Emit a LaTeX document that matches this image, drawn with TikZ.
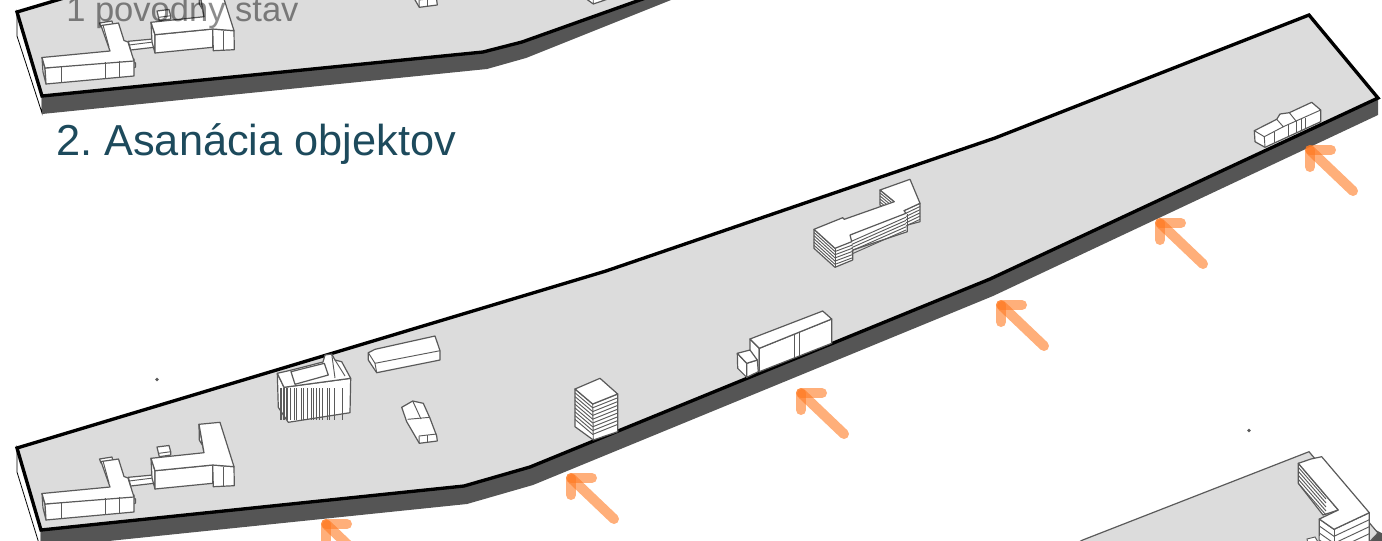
\documentclass[tikz,border=0pt]{standalone}
\usepackage{fontspec}
\setmainfont{Liberation Sans}
\frenchspacing
\definecolor{platefill}{HTML}{DCDCDC}
\definecolor{platedark}{HTML}{555555}
\definecolor{linegray}{HTML}{5A5A5A}
\definecolor{titleblue}{HTML}{1D4A5C}
\definecolor{arroworange}{HTML}{FF7A22}
\tikzset{
  block/.style={draw=linegray, fill=white, line width=0.9pt, line join=round},
  thin block/.style={draw=linegray, line width=0.7pt},
  plate/.style={fill=platefill, draw=black, line width=2.5pt, line join=miter},
  entrybar/.style={arroworange, opacity=0.6, line width=7.5pt, line cap=round},
  label/.style={inner sep=0pt, anchor=base west}
}
% blocks that stand on both plates
\newcommand{\sharedblocks}{%
    % Left wing
    \draw[block] (99.5,459) -- (112,457) -- (113,461) -- (101,463) -- cycle;
    \draw[block] (134,498) -- (135.5,499) -- (135.5,503) -- (133,504) -- cycle;
    \draw[block] (42,493.5) -- (45,504) -- (46,520) -- (43,508) -- cycle;
    \draw[block] (45,504) -- (134,495) -- (134,512) -- (46,520) -- cycle;
    \draw[block] (42,493.5) -- (110,487) -- (101,461.5) -- (118.5,459) -- (124,476.5) -- (128,478) -- (134,497) -- (45,504) -- cycle;
    \draw[thin block] (61,502) -- (61,518.5);
    \draw[thin block] (105.6,498) -- (105.6,514.5);
    \draw[thin block] (119,496.5) -- (119,513.5);
    \draw[thin block] (103,461) -- (109,483);
    % Passage between the wings
    \draw[block] (128.3,477.3) -- (153,475) -- (154,483.3) -- (130.7,486) -- cycle;
    \draw[thin block] (129,481) -- (153,478);
    % Right wing
    \draw[block] (157,447) -- (169,445.5) -- (170.7,451.7) -- (170.7,455) -- (159.3,456.7) -- cycle;
    \draw[thin block] (159,453.3) -- (170.7,451.7);
    \draw[block] (199,424.3) -- (199.3,440) -- (207,453) -- (204,453) -- cycle;
    \draw[block] (151,458.3) -- (155,470.7) -- (155,489) -- (152,478) -- cycle;
    \draw[block] (155,470.7) -- (212.7,465) -- (212.7,483.3) -- (155,489) -- cycle;
    \draw[block] (212.7,465) -- (234,466.7) -- (234.3,485.7) -- (213.3,486.7) -- cycle;
    \draw[block] (151,458.3) -- (204,452.7) -- (199,424.3) -- (220,422.3) -- (234,466.7) -- (212.7,465) -- (155,470.7) -- cycle;
    \draw[thin block] (223.3,467) -- (223.3,486);
    % Small house
    \draw[block] (401.7,407.3) -- (412.7,401) -- (423.3,403.3) -- (430,418.3) -- (436.7,436) -- (437.3,441) -- (419.3,443.3) -- (406.7,421.7) -- cycle;
    \draw[thin block] (407.7,419.3) -- (430,417.3);
    \draw[thin block] (412.7,401) -- (421,419);
    \draw[thin block] (419,436) -- (436.7,434);
    \draw[thin block] (419,436) -- (419.3,443.3);
    \draw[thin block] (427,435) -- (427,442.3);
    % Small stack
    \draw[block] (575,389) -- (575,426.7) -- (593.3,440) -- (617.7,431.7) -- (617.7,394) -- (592.7,404) -- cycle;
    \foreach \d in {3.8,7.6,...,34.2}
        \draw[thin block] (575,389+\d) -- (592.7,404+\d) -- (617.7,394+\d);
    \draw[thin block] (592.7,404) -- (593.3,440);
    \draw[block] (575,389) -- (600,378.3) -- (617.7,394) -- (592.7,404) -- cycle;
}
\begin{document}
\begin{tikzpicture}[x=0.75pt, y=-0.75pt]
    \useasboundingbox (0,0) rectangle (1382,540);
    \clip (0,0) rectangle (1382,540);

    % Upper plate
    \draw[fill=white, draw=black, line width=0.6pt] (17,12) -- (17,36) -- (42,113) -- (42,96) -- cycle;
    \fill[platedark] (42,96) -- (42,114) -- (487,69) -- (526,58) -- (696,-10) -- (668,-10) -- (522,42) -- (483,52) -- cycle;
    \draw[plate] (17,12) -- (64,-2) -- (64,-10) -- (668,-10) -- (522,42) -- (483,52) -- (42,96) -- cycle;
    \begin{scope}[shift={(0,-436)}]
        \sharedblocks
    \end{scope}
    \node[label, text=black, opacity=0.45] (oldstate) at (66,21) {\fontsize{25.9pt}{30pt}\selectfont 1 povodny stav};

    % Title
    \node[label, text=titleblue] (title) at (56,155) {\fontsize{32.5pt}{38pt}\selectfont 2. Asanácia objektov};

    % Main plate
    \draw[fill=white, draw=black, line width=0.6pt] (17,448) -- (17,472) -- (41,550) -- (41,530) -- cycle;
    \fill[platedark] (41,530) -- (41,548) -- (467,504) -- (533,485) -- (993,296) -- (1378,115) -- (1378,98) -- (990,279) -- (530,467) -- (464,486) -- cycle;
    \draw[plate] (17,448) -- (606,271) -- (995,138) -- (1309,15) -- (1378,98) -- (990,279) -- (530,467) -- (464,486) -- (41,530) -- cycle;
    \sharedblocks

    % Columned block
    \draw[block] (277.3,373.3) -- (278.3,407.3) -- (288.3,422.3) -- (350,412.7) -- (350.7,378.3) -- (284,387.3) -- cycle;
    \foreach \x in {280,281.5,283,284.5,286,287.5,290,294,296,301,303,307,311,313,316,319,322,327,329,334,342}
        \draw[thin block] (\x,388) -- (\x,420);
    \draw[block] (277.3,373.3) -- (291.7,370) -- (323,362) -- (325,355) -- (331.7,354) -- (335,360) -- (341.7,361.7) -- (350.7,378.3) -- (284,387.3) -- cycle;
    \draw[block] (291,371.7) -- (324.3,363.3) -- (328.3,375) -- (295,384.3) -- cycle;
    \draw[thin block] (335,360) -- (345,376);
    \draw[thin block] (331.7,354) -- (335,378);

    % Long low block
    \draw[block] (368.3,352.7) -- (375,349.3) -- (435,336) -- (440,350.7) -- (440,360) -- (376.7,372.7) -- (368.3,360) -- cycle;
    \draw[thin block] (368.3,352.7) -- (375,363.3) -- (440,350.7);
    \draw[thin block] (375,363.3) -- (376.7,372.7);

    % Shop block with annex
    \draw[block] (750,339) -- (759.3,348.3) -- (759.3,371.7) -- (750,362) -- cycle;
    \draw[block] (759.3,348.3) -- (831.7,319) -- (831.7,343.3) -- (759.3,371.7) -- cycle;
    \draw[block] (750,339) -- (822.7,311) -- (831.7,319) -- (759.3,348.3) -- cycle;
    \draw[thin block] (794,334) -- (794,358);
    \draw[thin block] (799.3,332) -- (799.3,356);
    \draw[block] (737.3,353.3) -- (746.7,363.3) -- (746.7,377.3) -- (737.7,368.3) -- cycle;
    \draw[block] (746.7,363.3) -- (757.3,360) -- (758.3,371.7) -- (746.7,377.3) -- cycle;
    \draw[block] (737.3,353.3) -- (750,350) -- (757.3,360) -- (746.7,363.3) -- cycle;

    % Bent block
    \draw[block] (880,190) -- (880,205) -- (894.3,216) -- (894.3,201.7) -- cycle;
    \foreach \d in {3,6,...,12}
        \draw[thin block] (880,190+\d) -- (894.3,201.7+\d);
    \draw[block] (814,229.3) -- (814,248.3) -- (835,267.3) -- (852.7,260) -- (852.7,250) -- (907.3,231.7) -- (907.3,225) -- (920,221.7) -- (920,203.3) -- (850,235) -- (835,248.3) -- cycle;
    \foreach \d in {3.2,6.4,...,16}{
        \draw[thin block] (814,229.3+\d) -- (835,248.3+\d) -- (852.7,241.7+\d);
        \draw[thin block] (851.7,238+\d) -- (906,214+\d);
        \draw[thin block] (906,210+\d) -- (920,203.3+\d);
    }
    \draw[thin block] (835,248.3) -- (835,267.3);
    \draw[thin block] (907.3,214) -- (907.3,231.7);
    \draw[block] (814,229.3) -- (842.7,217.7) -- (844.3,219.3) -- (894.3,201.7) -- (880,190) -- (910,179.3) -- (920,203.3) -- (904,210.7) -- (906,213.3) -- (850,235) -- (851.7,241.7) -- (835,248.3) -- cycle;

    % Far block
    \draw[block] (1254.3,130.7) -- (1276.7,119.3) -- (1280,114) -- (1289.3,112.7) -- (1311.7,102.3) -- (1320.7,110) -- (1320.7,121.7) -- (1265,147.3) -- (1255,141.7) -- cycle;
    \draw[thin block] (1254.3,130.7) -- (1264.3,136.7) -- (1283.3,126.7) -- (1276.7,119.3);
    \draw[thin block] (1283.3,126.7) -- (1320.7,110);
    \draw[thin block] (1264.3,136.7) -- (1265,147.3);
    \draw[thin block] (1274,132) -- (1274,142.5);
    \draw[thin block] (1288,125) -- (1288,136);
    \draw[thin block] (1296,121) -- (1296,132.5);
    \draw[thin block] (1301,119) -- (1301,130);
    \draw[thin block] (1305,117.5) -- (1305,128.5);
    \draw[thin block] (1289.3,112.7) -- (1296,121);

    % Stray points
    \fill[linegray] (157,379.5) circle (1.8);
    \fill[linegray] (1249,430.5) circle (1.8);

    % Next plate
    \fill[platedark] (1370,527) -- (1395,540) -- (1395,560) -- (1340,560) -- cycle;
    \draw[fill=platefill, draw=linegray, line width=0.9pt] (1309,451.7) -- (1082.7,540) -- (1060,552) -- (1360,552) -- (1378,533) -- cycle;
    \draw[thin block, fill=white] (1307,539) -- (1315,537) -- (1318,542) -- (1308,544) -- cycle;
    \draw[block] (1298.3,463.3) -- (1298.3,483.3) -- (1323,515) -- (1338.3,510) -- cycle;
    \foreach \d in {4,8,...,20}
        \draw[thin block] (1298.3,463.3+\d) -- (1326,495+\d);
    \draw[block] (1319.3,519) -- (1319,550) -- (1334,560) -- (1369.3,550) -- (1369.3,512.7) -- (1334,529.3) -- cycle;
    \foreach \d in {7,14,21}
        \draw[thin block] (1319.3,519+\d) -- (1334,529.3+\d) -- (1369.3,512.7+\d);
    \draw[thin block] (1334,529.3) -- (1334,560);
    \draw[block] (1298.3,463.3) -- (1311,459) -- (1321.7,456.7) -- (1369.3,512.7) -- (1334,529.3) -- (1319.3,519) -- (1338.3,510) -- cycle;

    % Entry arrows
    \foreach \x/\y in {326/524, 571/478, 801/393, 1001/305, 1160/223, 1310/150}{
        \draw[entrybar] (\x,\y) -- (\x+21,\y);
        \draw[entrybar] (\x,\y) -- (\x,\y+17);
        \draw[entrybar] (\x+1,\y+1) -- (\x+43,\y+41);
    }
\end{tikzpicture}
\end{document}
